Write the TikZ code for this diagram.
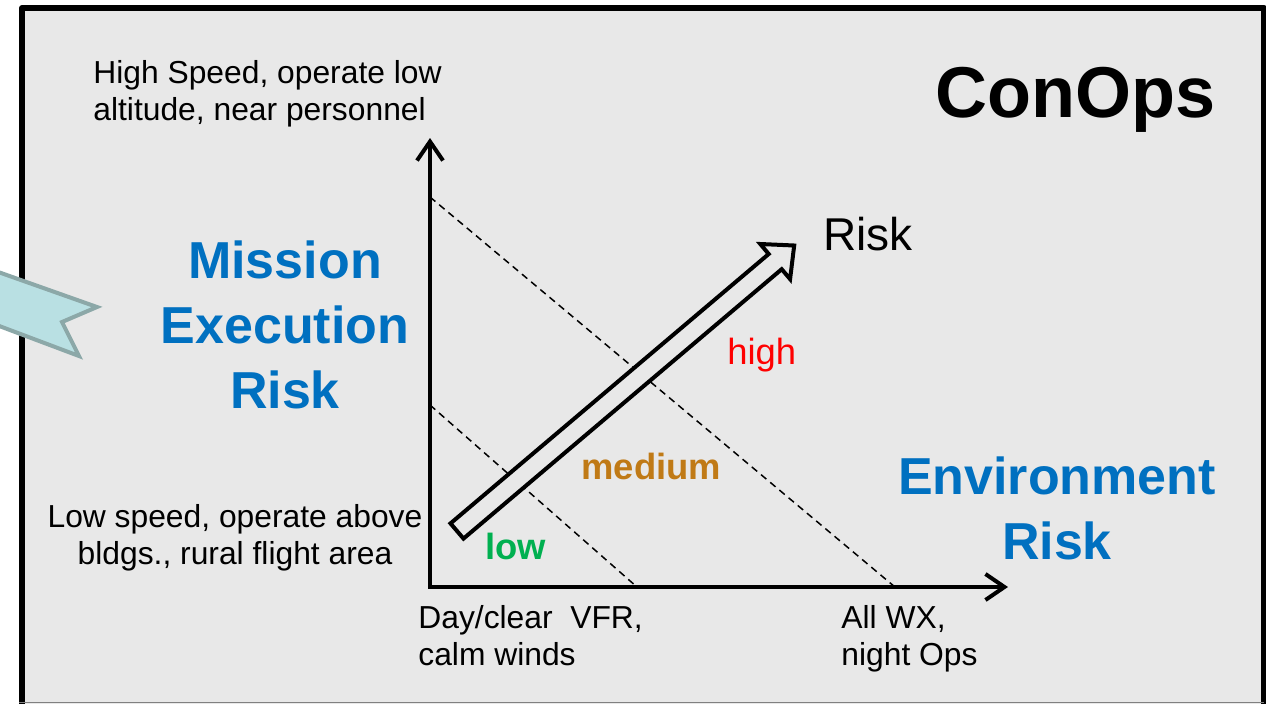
\documentclass[tikz,border=0pt]{standalone}
\usepackage{fontspec}
\setmainfont{Liberation Sans}
\usetikzlibrary{arrows.meta}
\definecolor{coBoxGrey}{HTML}{E8E8E8}
\definecolor{coBlue}{HTML}{0070C0}
\definecolor{coHigh}{HTML}{FF0000}
\definecolor{coMedium}{HTML}{C07A16}
\definecolor{coLow}{HTML}{00B050}
\definecolor{coTailFill}{HTML}{B9E0E3}
\definecolor{coTailEdge}{HTML}{8CA8A8}

\begin{document}
\begin{tikzpicture}[x=0.5pt,y=-0.5pt,
  >={Straight Barb[length=9.5pt,width=13pt]},
  note/.style={inner sep=0pt,font=\fontsize{15.9}{18.75}\selectfont},
  bigblue/.style={inner sep=0pt,text=coBlue,align=center,font=\fontsize{26}{32.5}\selectfont\bfseries},
  level/.style={inner sep=0pt,anchor=base west,font=\fontsize{18.2}{22}\selectfont},
  divider/.style={dashed,dash pattern=on 3.5pt off 2.5pt,line width=0.75pt}]
\useasboundingbox (0,0) rectangle (1266,703);
\fill[white] (0,0) rectangle (1266,703);
\begin{scope}
\clip (0,0) rectangle (1266,703);
\fill[coBoxGrey] (22,8) rectangle (1264,720);
\draw[line width=3pt,line join=round] (22,720) -- (22,8) -- (1264,8) -- (1264,720);
\draw[gray,line width=0.6pt] (19,702.5) -- (1264,702.5);
% tail of a callout coming in from the left
\filldraw[fill=coTailFill,draw=coTailEdge,line width=2pt,line join=miter]
  (-30,262) -- (97,307) -- (62,322) -- (79,356) -- (-30,315) -- cycle;
\end{scope}

% axes
\coordinate (origin) at (430,587);
\coordinate (ytop) at (430,138);
\coordinate (xend) at (1008,587);
\draw[line width=2pt,line join=miter,<->] (ytop) -- (origin) -- (xend);

% risk level boundaries
\coordinate (hiA) at (430,197);
\coordinate (hiB) at (895,587);
\coordinate (loA) at (430,405);
\coordinate (loB) at (637,587);
\draw[divider] (hiA) -- (hiB);
\draw[divider] (loA) -- (loB);

% hollow risk arrow
\filldraw[fill=coBoxGrey,line width=2pt,line join=miter]
  (450.5,523.4) -- (768.7,254.0) -- (760.3,244.0) -- (794.2,245.5)
  -- (790.1,279.1) -- (781.7,269.2) -- (463.5,538.6) -- cycle;

\node[note,anchor=north west,align=left] (hiCase) at (93,60) {High Speed, operate low\\altitude, near personnel};
\node[note,anchor=north,align=center] (loCase) at (235,504) {Low speed, operate above\\bldgs., rural flight area};
\node[note,anchor=north west,align=left] (calmWx) at (418,605) {Day/clear\ \ VFR,\\calm winds};
\node[note,anchor=north west,align=left] (allWx) at (841,605) {All WX,\\night Ops};

\node[inner sep=0pt,anchor=base west,font=\fontsize{36}{40}\selectfont\bfseries] (title) at (935,117) {ConOps};
\node[bigblue,anchor=north] (missionRisk) at (285,240) {Mission\\Execution\\Risk};
\node[bigblue,anchor=north] (envRisk) at (1057,456) {Environment\\Risk};
\node[inner sep=0pt,anchor=base west,font=\fontsize{23}{28}\selectfont] (riskLabel) at (823,250) {Risk};

\node[level,text=coHigh] (high) at (727,364) {high};
\node[level,text=coMedium] (medium) at (581,479) {\bfseries medium};
\node[level,text=coLow] (low) at (485,559) {\bfseries low};
\end{tikzpicture}
\end{document}
